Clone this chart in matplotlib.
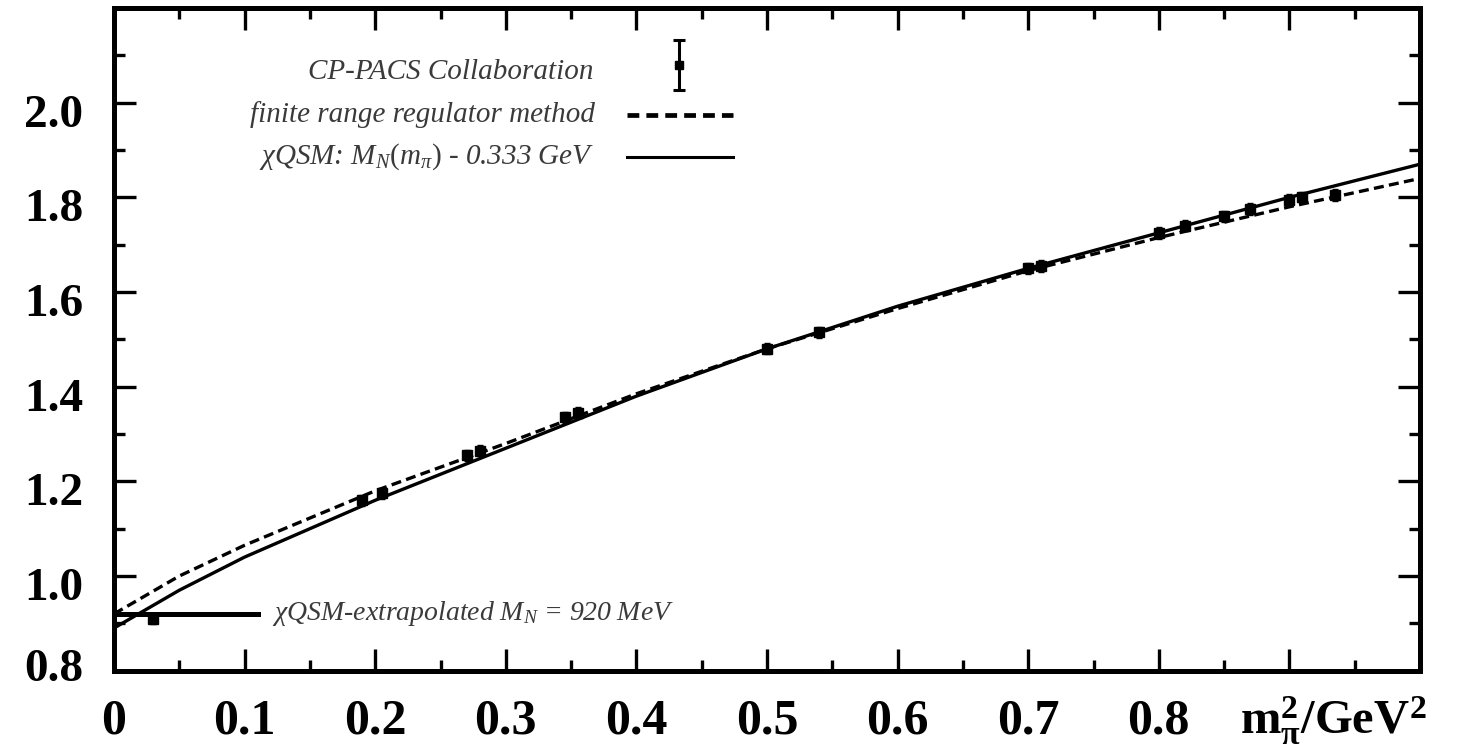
import matplotlib
matplotlib.use("Agg")
import matplotlib.pyplot as plt
import matplotlib.transforms as mtransforms
from matplotlib.ticker import MultipleLocator

plt.rcParams['font.family'] = ['Liberation Serif', 'DejaVu Serif']
plt.rcParams['mathtext.fontset'] = 'custom'
plt.rcParams['mathtext.rm'] = 'Liberation Serif'
plt.rcParams['mathtext.it'] = 'Liberation Serif:italic'
plt.rcParams['mathtext.bf'] = 'Liberation Serif:bold'

# chiQSM curve M_N(m_pi) - 0.333 GeV
qsm_x = [0, 0.05, 0.1, 0.15, 0.2, 0.25, 0.3, 0.4, 0.5, 0.6, 0.7, 0.8, 0.9, 1.0]
qsm_y = [0.89, 0.97, 1.04, 1.10, 1.16, 1.215, 1.27, 1.38, 1.48, 1.57, 1.65, 1.725, 1.80, 1.87]

# finite range regulator fit
frr_x = [0, 0.05, 0.1, 0.2, 0.3, 0.4, 0.5, 0.6, 0.7, 0.8, 0.9, 1.0]
frr_y = [0.92, 1.0, 1.065, 1.18, 1.28, 1.385, 1.48, 1.565, 1.645, 1.715, 1.78, 1.84]

# CP-PACS lattice points
cp_x = [0.03, 0.19, 0.205, 0.27, 0.28, 0.345, 0.355, 0.50, 0.54, 0.70, 0.71,
        0.80, 0.82, 0.85, 0.87, 0.90, 0.91, 0.935]
cp_y = [0.91, 1.16, 1.175, 1.255, 1.265, 1.335, 1.345, 1.48, 1.515, 1.65, 1.655,
        1.725, 1.74, 1.76, 1.775, 1.795, 1.80, 1.805]
cp_err = [0.012] * len(cp_x)

xticks = [0, 0.1, 0.2, 0.3, 0.4, 0.5, 0.6, 0.7, 0.8, 0.9, 1.0]
xticklabels = ['0', '0.1', '0.2', '0.3', '0.4', '0.5', '0.6', '0.7', '0.8', '', '']
yticks = [0.8, 1.0, 1.2, 1.4, 1.6, 1.8, 2.0, 2.2]
yticklabels = ['0.8', '1.0', '1.2', '1.4', '1.6', '1.8', '2.0', '']

fig = plt.figure(figsize=(14.58, 7.49), dpi=100)
ax = fig.add_axes([114 / 1458, 1 - 670.7 / 749, 1306 / 1458, 662.7 / 749])

ax.plot(qsm_x, qsm_y, color='black', lw=2.4, solid_capstyle='butt')
ax.plot(frr_x, frr_y, color='black', lw=2.4, ls=(0, (3, 1.6)))
ax.errorbar(cp_x, cp_y, yerr=cp_err, fmt='s', ms=7, color='black',
            elinewidth=2, capsize=2)

# legend drawn by hand
grey = '#3a3a3a'
ax.errorbar([0.433], [2.08], yerr=[0.053], fmt='s', ms=6, color='black',
            elinewidth=2.2, capsize=4, capthick=2.2)
ax.text(0.367, 2.065, 'CP-PACS Collaboration', ha='right', va='center',
        style='italic', fontsize=21, color=grey)
ax.plot([0.393, 0.474], [1.975, 1.975], color='black', lw=3.4, ls=(0, (2.5, 1.5)))
ax.text(0.368, 1.975, 'finite range regulator method', ha='right', va='center',
        style='italic', fontsize=21, color=grey)
ax.plot([0.393, 0.474], [1.886, 1.886], color='black', lw=2.2)
ax.text(0.368, 1.886, r'$\chi$QSM: $M_N(m_\pi)$ - 0.333 GeV', ha='right', va='center',
        style='italic', fontsize=21, color=grey)

ax.plot([0, 0.11], [0.92, 0.92], color='black', lw=3.6)
ax.text(0.121, 0.92, r'$\chi$QSM-extrapolated $M_N$ = 920 MeV', ha='left', va='center',
        style='italic', fontsize=20, color=grey)

ax.set_xlim(0, 1.0)
ax.set_ylim(0.8, 2.2)
ax.set_xticks(xticks)
ax.set_xticklabels(xticklabels)
ax.set_yticks(yticks)
ax.set_yticklabels(yticklabels)
ax.xaxis.set_minor_locator(MultipleLocator(0.05))
ax.yaxis.set_minor_locator(MultipleLocator(0.1))

for s in ax.spines.values():
    s.set_linewidth(3.6)
ax.tick_params(which='both', direction='in', top=True, right=True, width=2.4)
ax.tick_params(which='major', length=16)
ax.tick_params(which='minor', length=8)
ax.tick_params(axis='x', pad=20, labelsize=36)
ax.tick_params(axis='y', pad=22, labelsize=34)
for lab in ax.get_xticklabels() + ax.get_yticklabels():
    lab.set_fontweight('bold')

# y labels sit a little low in the original
down = mtransforms.ScaledTranslation(0, -8 / 100, fig.dpi_scale_trans)
up = mtransforms.ScaledTranslation(0, 6 / 100, fig.dpi_scale_trans)
for lab in ax.get_yticklabels():
    if lab.get_text() == '0.8':
        lab.set_transform(lab.get_transform() + up)
    else:
        lab.set_transform(lab.get_transform() + down)

ax.text(0.862, -0.076, r'$\mathbf{m_\pi^2/GeV^2}$', transform=ax.transAxes,
        ha='left', va='center', fontsize=35)

fig.savefig('out.png', dpi=100)
